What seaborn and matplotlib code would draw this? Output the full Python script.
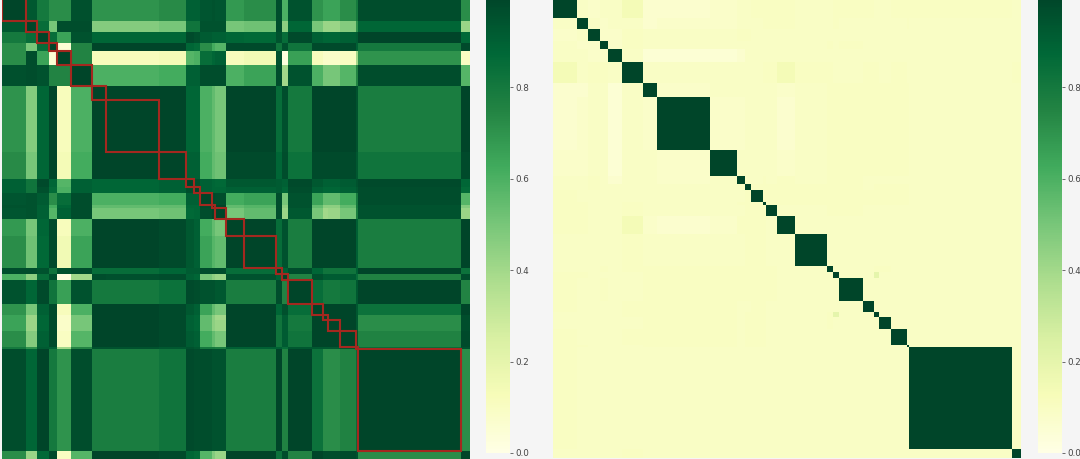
#!/usr/bin/env python3
import numpy as np
import matplotlib
matplotlib.use('Agg')
import matplotlib.pyplot as plt
from matplotlib.patches import Rectangle
import seaborn as sns

# cluster sizes along the diagonal, both matrices share the same ordering
block_sizes = [24, 11, 12, 8, 14, 21, 14, 53, 27, 8, 6, 12, 3, 11, 18, 32,
               6, 6, 24, 11, 5, 12, 16, 2, 103, 9]

# upper triangle per cluster
left_rows = [
    [1, .93, .8, .72, .72, .96, .7, .7, .73, .9, .9, .94, .95, .94, .68, .72, .97, .6, .95, .7, .65, .65, .72, .8, .97, .72],
    [1, .85, .5, .97, .97, .47, .47, .5, .82, .82, .95, .95, .95, .5, .52, .97, .45, .88, .5, .42, .42, .47, .7, .88, .42],
    [1, .85, .65, .95, .88, .88, .88, .98, .96, .92, .9, .9, .88, .87, .95, .85, .98, .9, .88, .88, .9, .92, 1, .87],
    [1, .05, .75, 1, 1, 1, .88, .86, .72, .62, .58, .98, .98, .82, .96, .82, .98, .98, .98, .98, .9, .8, .98],
    [1, .75, .12, .12, .14, .58, .6, .85, .88, .9, .12, .15, .95, .02, .66, .12, .08, .08, .1, .4, .7, .1],
    [1, .6, .6, .62, .9, .9, .97, .97, .97, .6, .65, .97, .4, .95, .6, .5, .5, .58, .75, .97, .58],
    [1, 1, 1, .88, .88, .6, .55, .5, 1, 1, .85, .97, .8, 1, 1, 1, 1, .95, .78, 1],
    [1, 1, .88, .88, .6, .55, .5, 1, 1, .85, .96, .8, 1, 1, 1, 1, .95, .78, 1],
    [1, .9, .9, .62, .55, .52, .98, .98, .88, .97, .83, .98, .98, .98, .98, .93, .82, .98],
    [1, .96, .9, .88, .87, .93, .93, .92, .9, .98, .93, .9, .9, .92, .95, .98, .88],
    [1, .9, .88, .88, .9, .9, .92, .88, .97, .9, .88, .88, .9, .93, .97, .86],
    [1, .98, .97, .62, .65, .97, .5, .95, .65, .55, .55, .62, .8, .97, .58],
    [1, 1, .55, .58, .97, .45, .95, .55, .45, .45, .55, .8, .95, .47],
    [1, .5, .55, .97, .42, .93, .5, .4, .42, .5, .78, .95, .42],
    [1, 1, .85, .95, .78, 1, 1, 1, 1, .9, .78, 1],
    [1, .85, .95, .78, 1, 1, 1, 1, .9, .78, 1],
    [1, .9, .97, .88, .82, .82, .82, .9, 1, .83],
    [1, .75, .96, .92, .92, .92, .85, .76, .97],
    [1, .85, .8, .8, .82, .93, 1, .75],
    [1, 1, 1, 1, .93, .83, 1],
    [1, 1, 1, .93, .72, .97],
    [1, 1, .93, .72, .97],
    [1, .95, .76, .98],
    [1, .85, .95],
    [1, .72],
    [1],
]

right_rows = [
    [1, .09, .08, .09, .09, .14, .07, .07, .08, .09, .09, .1, .1, .1, .1, .09, .09, .1, .1, .1, .09, .09, .1, .1, .1, .09],
    [1, .09, .08, .09, .09, .07, .08, .08, .09, .09, .09, .1, .1, .1, .09, .09, .1, .09, .09, .09, .09, .09, .1, .09, .09],
    [1, .08, .08, .1, .09, .09, .09, .1, .1, .09, .09, .09, .09, .09, .09, .09, .09, .09, .09, .09, .09, .09, .09, .09],
    [1, .08, .1, .09, .09, .09, .09, .09, .09, .09, .09, .09, .09, .1, .09, .1, .09, .09, .09, .09, .09, .09, .09],
    [1, .09, .05, .05, .05, .07, .09, .09, .09, .09, .09, .09, .09, .09, .09, .09, .09, .09, .09, .09, .09, .09],
    [1, .09, .09, .09, .09, .09, .09, .1, .1, .14, .1, .1, .09, .09, .1, .1, .09, .1, .09, .09, .1],
    [1, .08, .09, .09, .09, .09, .09, .09, .08, .09, .1, .1, .1, .1, .1, .1, .1, .1, .09, .09],
    [1, .08, .08, .09, .09, .09, .09, .07, .09, .1, .1, .1, .1, .1, .1, .1, .1, .09, .09],
    [1, .09, .09, .09, .09, .09, .08, .09, .1, .1, .1, .1, .1, .1, .1, .1, .09, .09],
    [1, .09, .09, .1, .09, .1, .09, .1, .1, .1, .09, .09, .09, .09, .09, .09, .09],
    [1, .1, .1, .1, .1, .1, .1, .1, .1, .09, .1, .1, .1, .1, .09, .09],
    [1, .1, .1, .1, .1, .1, .1, .1, .1, .1, .1, .1, .1, .09, .09],
    [1, .1, .1, .1, .1, .1, .1, .1, .1, .1, .1, .1, .09, .09],
    [1, .09, .09, .1, .1, .1, .09, .09, .09, .09, .09, .09, .09],
    [1, .09, .09, .09, .09, .09, .09, .09, .09, .09, .09, .09],
    [1, .09, .09, .09, .09, .09, .09, .09, .09, .09, .09],
    [1, .09, .09, .09, .1, .1, .09, .09, .09, .09],
    [1, .09, .09, .2, .09, .09, .09, .09, .09],
    [1, .09, .09, .09, .09, .09, .09, .09],
    [1, .09, .09, .09, .09, .09, .09],
    [1, .09, .09, .09, .09, .09],
    [1, .09, .09, .09, .09],
    [1, .09, .09, .09],
    [1, .09, .09],
    [1, .09],
    [1],
]

# 1.0 sits above the top edge of the picture
cbar_ticks = [0.0, 0.2, 0.4, 0.6, 0.8]
cbar_labels = ['0.0', '0.2', '0.4', '0.6', '0.8']

BG = '#f5f5f5'
BOX_RED = '#a3281f'
W, H = 1080, 459


def px_axes(fig, x0, y0, x1, y1):
    """Axes from pixel box, y measured from top of the picture."""
    return fig.add_axes([x0 / W, 1 - y1 / H, (x1 - x0) / W, (y1 - y0) / H])


def expand(rows, sizes):
    """Symmetric cluster table, repeated out to one cell per item."""
    n = len(sizes)
    table = np.zeros((n, n))
    for i, row in enumerate(rows):
        table[i, i:] = row
        table[i:, i] = row
    return np.repeat(np.repeat(table, sizes, axis=0), sizes, axis=1)


def draw_panel(fig, rows, heat_box, cbar_box):
    ax = px_axes(fig, *heat_box)
    cax = px_axes(fig, *cbar_box)
    sns.heatmap(expand(rows, block_sizes), ax=ax, cbar_ax=cax, cmap='YlGn',
                vmin=0, vmax=1, xticklabels=False, yticklabels=False)
    cax.set_yticks(cbar_ticks)
    cax.set_yticklabels(cbar_labels)
    cax.tick_params(length=2, width=0.6, pad=2, labelsize=6.3,
                    color='#555555', labelcolor='#444444')
    return ax


def main():
    fig = plt.figure(figsize=(W / 100, H / 100), dpi=100, facecolor=BG)

    ax_left = draw_panel(fig, left_rows, (2, -3, 470, 460), (486, -4, 509.5, 453))
    draw_panel(fig, right_rows, (553, -6, 1021, 458), (1038, -4, 1062, 453))

    # red outlines around clusters on the left one
    edges = np.cumsum([0] + block_sizes)
    for start, size in zip(edges[:-2], block_sizes[:-1]):
        ax_left.add_patch(Rectangle((start, start), size, size, fill=False,
                                    edgecolor=BOX_RED, linewidth=1.5, clip_on=True))

    fig.savefig('out.png', dpi=100, facecolor=BG)


if __name__ == '__main__':
    main()
